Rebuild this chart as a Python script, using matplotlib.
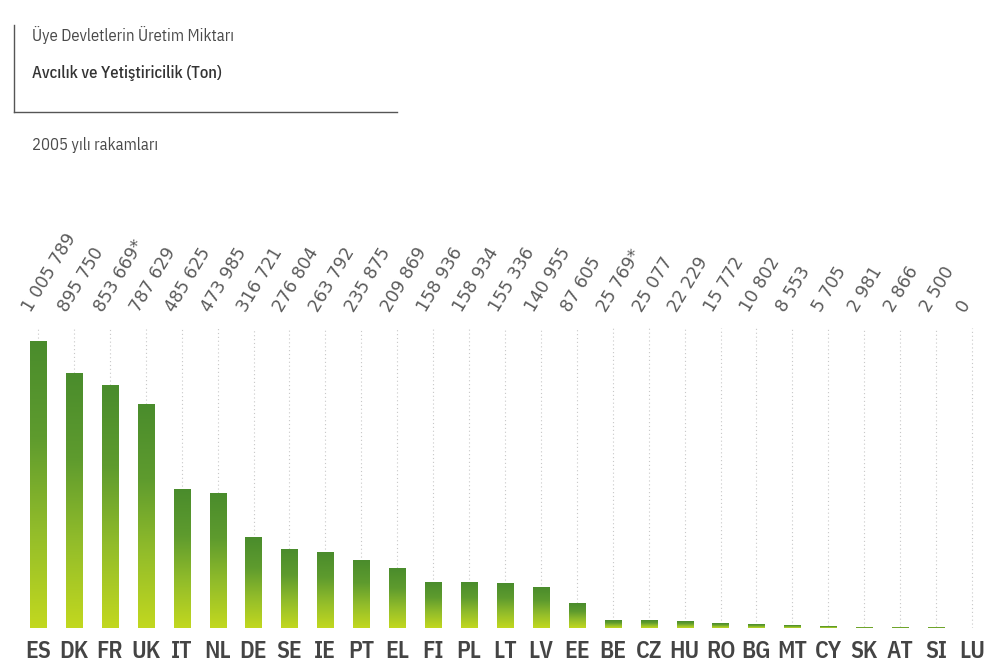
import matplotlib
matplotlib.use("Agg")
import matplotlib.pyplot as plt
import numpy as np
from matplotlib.colors import LinearSegmentedColormap
from matplotlib.lines import Line2D
import matplotlib.transforms as mtransforms

countries = ["ES", "DK", "FR", "UK", "IT", "NL", "DE", "SE", "IE", "PT", "EL", "FI", "PL",
             "LT", "LV", "EE", "BE", "CZ", "HU", "RO", "BG", "MT", "CY", "SK", "AT", "SI", "LU"]
values = [1005789, 895750, 853669, 787629, 485625, 473985, 316721, 276804, 263792, 235875,
          209869, 158936, 158934, 155336, 140955, 87605, 25769, 25077, 22229, 15772, 10802,
          8553, 5705, 2981, 2866, 2500, 0]
value_labels = ["1 005 789", "895 750", "853 669*", "787 629", "485 625", "473 985", "316 721",
                "276 804", "263 792", "235 875", "209 869", "158 936", "158 934", "155 336",
                "140 955", "87 605", "25 769*", "25 077", "22 229", "15 772", "10 802", "8 553",
                "5 705", "2 981", "2 866", "2 500", "0"]
title_line1 = "Üye Devletlerin Üretim Miktarı"
title_line2 = "Avcılık ve Yetiştiricilik (Ton)"
subtitle = "2005 yılı rakamları"

W, H = 995, 668
fig = plt.figure(figsize=(W / 100, H / 100), dpi=100)
fig.patch.set_facecolor("white")

def fx(px):
    return px / W

def fy(py):
    return 1 - py / H

# Axes geometry (pixels)
left_px, right_px = 20, 990
base_px, top_px = 628, 200
ax = fig.add_axes([fx(left_px), fy(base_px), (right_px - left_px) / W, (base_px - top_px) / H])
n = len(values)
ymax = max(values) * (base_px - top_px) / 286.0
ax.set_xlim(-0.5, n - 0.5)
ax.set_ylim(0, ymax)
for s in ax.spines.values():
    s.set_visible(False)
ax.set_yticks([])
ax.set_xticks(range(n))
ax.set_xticklabels(countries, family="IBM Plex Sans Condensed", fontweight="semibold",
                   fontsize=17, color="#444444")
ax.tick_params(axis="x", length=0, pad=9)

cmap = LinearSegmentedColormap.from_list("g", ["#c2d81f", "#93bd2a", "#5e9b2e", "#4a8c2c"])
grad = np.linspace(0, 1, 256).reshape(-1, 1)
bw = 0.45

label_y_ax = (base_px - 313) / (base_px - top_px)
line_top = (base_px - 328) / (base_px - top_px) * ymax
trans = mtransforms.blended_transform_factory(ax.transData, ax.transAxes)

for i, v in enumerate(values):
    ax.vlines(i, v, line_top, colors="#c8c8c8", linestyles=(0, (1, 2.5)), linewidth=0.8, zorder=1)
    if v > 0:
        ax.imshow(grad, extent=[i - bw / 2, i + bw / 2, 0, v], origin="lower",
                  aspect="auto", cmap=cmap, zorder=2, interpolation="bilinear")
    ax.text(i - 0.2, label_y_ax, value_labels[i], transform=trans, rotation=59,
            rotation_mode="anchor", ha="left", va="baseline", fontsize=12.5,
            color="#5a5a5a", family="DejaVu Sans", clip_on=False)
ax.set_xlim(-0.5, n - 0.5)
ax.set_ylim(0, ymax)

# Title block
fig.text(fx(32), fy(35), title_line1, family="IBM Plex Sans Condensed", fontsize=12,
         color="#4a4a4a", va="center", ha="left")
fig.text(fx(32), fy(73), title_line2, family="IBM Plex Sans Condensed", fontsize=12,
         fontweight="medium", color="#333333", va="center", ha="left")
fig.text(fx(32), fy(145), subtitle, family="IBM Plex Sans Condensed", fontsize=12,
         color="#4a4a4a", va="center", ha="left")
fig.add_artist(Line2D([fx(14), fx(14)], [fy(25), fy(112)], color="#555555", lw=1))
fig.add_artist(Line2D([fx(14), fx(397)], [fy(112), fy(112)], color="#555555", lw=1))

fig.savefig("out.png", dpi=100, facecolor="white")
